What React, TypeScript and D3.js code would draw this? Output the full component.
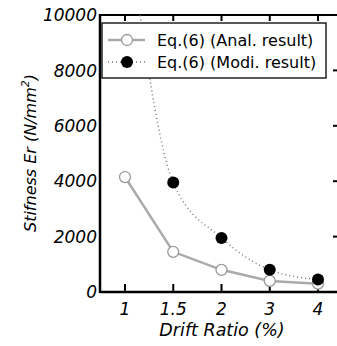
import React from 'react';
import * as d3 from 'd3';

const drift = ['1', '1.5', '2', '3', '4'];
const anal = [4150, 1450, 800, 400, 300];
const modi = [14000, 3950, 1950, 800, 450];
const yTicks = [0, 2000, 4000, 6000, 8000, 10000];

const W = 337;
const H = 346;
const m = { left: 100, right: 338, top: 15, bottom: 292 };

export default function App() {
  const x = d3.scalePoint<string>().domain(drift).range([125, 318]);
  const y = d3.scaleLinear().domain([0, 10000]).range([m.bottom, m.top]);

  const analLine = d3
    .line<number>()
    .x((_, i) => x(drift[i])!)
    .y(d => y(d));
  const modiLine = d3
    .line<number>()
    .x((_, i) => x(drift[i])!)
    .y(d => y(d))
    .curve(d3.curveMonotoneX);

  const font = 'DejaVu Sans, sans-serif';

  return (
    <svg
      width={W}
      height={H}
      style={{ position: 'absolute', left: 0, top: 0, background: '#fff' }}
      fontFamily={font}
    >
      <defs>
        <clipPath id="plot">
          <rect x={m.left} y={m.top} width={m.right - m.left} height={m.bottom - m.top} />
        </clipPath>
      </defs>

      {/* frame */}
      <line x1={m.left} x2={m.right} y1={m.top} y2={m.top} stroke="#000" strokeWidth={2} />
      <line x1={m.left} x2={m.right} y1={m.bottom} y2={m.bottom} stroke="#000" strokeWidth={2.5} />
      <line x1={m.left} x2={m.left} y1={m.top - 1} y2={m.bottom + 1} stroke="#000" strokeWidth={2.5} />

      {/* x ticks top and bottom */}
      {drift.map(d => (
        <g key={d}>
          <line x1={x(d)} x2={x(d)} y1={m.bottom} y2={m.bottom - 8} stroke="#000" strokeWidth={2} />
          <line x1={x(d)} x2={x(d)} y1={m.top} y2={m.top + 6} stroke="#000" strokeWidth={2} />
          <text x={x(d)} y={315} textAnchor="middle" fontSize={17} fontStyle="italic">
            {d}
          </text>
        </g>
      ))}

      {/* y ticks */}
      {yTicks.map(t => (
        <g key={t}>
          <line x1={m.right} x2={m.right - 5} y1={y(t)} y2={y(t)} stroke="#000" strokeWidth={2} />
          <text x={97} y={y(t)} dy="0.36em" textAnchor="end" fontSize={17} fontStyle="italic">
            {t}
          </text>
        </g>
      ))}

      <g clipPath="url(#plot)">
        <path
          d={modiLine(modi) || ''}
          fill="none"
          stroke="#777"
          strokeWidth={1.5}
          strokeDasharray="1 3"
        />
        <path d={analLine(anal) || ''} fill="none" stroke="#aaa" strokeWidth={2.5} />
        {anal.map((v, i) => (
          <circle key={'a' + i} cx={x(drift[i])} cy={y(v)} r={5.5} fill="#fff" stroke="#999" strokeWidth={1.3} />
        ))}
        {modi.map((v, i) => (
          <circle key={'m' + i} cx={x(drift[i])} cy={y(v)} r={6} fill="#000" />
        ))}
      </g>

      {/* legend */}
      <rect x={102} y={23} width={224} height={55} fill="#fff" stroke="#222" strokeWidth={1.5} />
      <line x1={108} x2={145} y1={40} y2={40} stroke="#aaa" strokeWidth={2.5} />
      <circle cx={127} cy={40} r={5.5} fill="#fff" stroke="#999" strokeWidth={1.3} />
      <text x={157} y={40} dy="0.36em" fontSize={16}>
        Eq.(6) (Anal. result)
      </text>
      <line x1={108} x2={145} y1={62} y2={62} stroke="#777" strokeWidth={1.5} strokeDasharray="1 3" />
      <circle cx={127} cy={62} r={6} fill="#000" />
      <text x={157} y={62} dy="0.36em" fontSize={16}>
        Eq.(6) (Modi. result)
      </text>

      {/* axis titles */}
      <text x={222} y={336} textAnchor="middle" fontSize={17.5} fontStyle="italic">
        Drift Ratio (%)
      </text>
      <text
        transform="translate(36,153) rotate(-90)"
        textAnchor="middle"
        fontSize={16}
        fontStyle="italic"
      >
        Stifness Er (N/mm
        <tspan dy={-7} fontSize={11}>
          2
        </tspan>
        <tspan dy={7}>)</tspan>
      </text>
    </svg>
  );
}
